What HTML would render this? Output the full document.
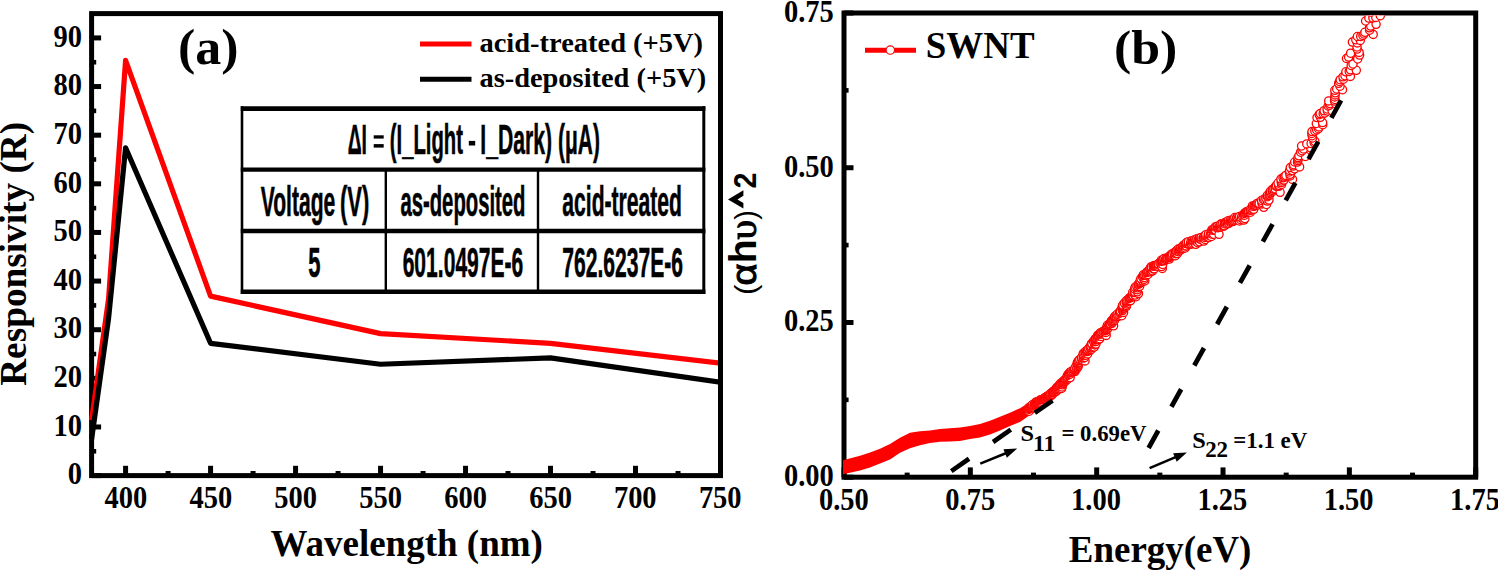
<!DOCTYPE html>
<html><head><meta charset="utf-8"><style>html,body{margin:0;padding:0;background:#fff;}svg{display:block;}</style></head>
<body><svg width="1498" height="570" viewBox="0 0 1498 570">
<rect width="1498" height="570" fill="#fff"/>
<line x1="91.60" y1="475.60" x2="101.10" y2="475.60" stroke="#000" stroke-width="5" />
<line x1="91.60" y1="426.97" x2="101.10" y2="426.97" stroke="#000" stroke-width="5" />
<line x1="91.60" y1="378.34" x2="101.10" y2="378.34" stroke="#000" stroke-width="5" />
<line x1="91.60" y1="329.71" x2="101.10" y2="329.71" stroke="#000" stroke-width="5" />
<line x1="91.60" y1="281.07" x2="101.10" y2="281.07" stroke="#000" stroke-width="5" />
<line x1="91.60" y1="232.44" x2="101.10" y2="232.44" stroke="#000" stroke-width="5" />
<line x1="91.60" y1="183.81" x2="101.10" y2="183.81" stroke="#000" stroke-width="5" />
<line x1="91.60" y1="135.18" x2="101.10" y2="135.18" stroke="#000" stroke-width="5" />
<line x1="91.60" y1="86.55" x2="101.10" y2="86.55" stroke="#000" stroke-width="5" />
<line x1="91.60" y1="37.92" x2="101.10" y2="37.92" stroke="#000" stroke-width="5" />
<line x1="91.60" y1="451.28" x2="96.20" y2="451.28" stroke="#000" stroke-width="4.6" />
<line x1="91.60" y1="402.65" x2="96.20" y2="402.65" stroke="#000" stroke-width="4.6" />
<line x1="91.60" y1="354.02" x2="96.20" y2="354.02" stroke="#000" stroke-width="4.6" />
<line x1="91.60" y1="305.39" x2="96.20" y2="305.39" stroke="#000" stroke-width="4.6" />
<line x1="91.60" y1="256.76" x2="96.20" y2="256.76" stroke="#000" stroke-width="4.6" />
<line x1="91.60" y1="208.13" x2="96.20" y2="208.13" stroke="#000" stroke-width="4.6" />
<line x1="91.60" y1="159.49" x2="96.20" y2="159.49" stroke="#000" stroke-width="4.6" />
<line x1="91.60" y1="110.86" x2="96.20" y2="110.86" stroke="#000" stroke-width="4.6" />
<line x1="91.60" y1="62.23" x2="96.20" y2="62.23" stroke="#000" stroke-width="4.6" />
<line x1="125.59" y1="475.60" x2="125.59" y2="465.80" stroke="#000" stroke-width="5" />
<line x1="210.58" y1="475.60" x2="210.58" y2="465.80" stroke="#000" stroke-width="5" />
<line x1="295.57" y1="475.60" x2="295.57" y2="465.80" stroke="#000" stroke-width="5" />
<line x1="380.55" y1="475.60" x2="380.55" y2="465.80" stroke="#000" stroke-width="5" />
<line x1="465.54" y1="475.60" x2="465.54" y2="465.80" stroke="#000" stroke-width="5" />
<line x1="550.53" y1="475.60" x2="550.53" y2="465.80" stroke="#000" stroke-width="5" />
<line x1="635.51" y1="475.60" x2="635.51" y2="465.80" stroke="#000" stroke-width="5" />
<line x1="720.50" y1="475.60" x2="720.50" y2="465.80" stroke="#000" stroke-width="5" />
<line x1="168.09" y1="475.60" x2="168.09" y2="471.00" stroke="#000" stroke-width="5" />
<line x1="253.07" y1="475.60" x2="253.07" y2="471.00" stroke="#000" stroke-width="5" />
<line x1="338.06" y1="475.60" x2="338.06" y2="471.00" stroke="#000" stroke-width="5" />
<line x1="423.05" y1="475.60" x2="423.05" y2="471.00" stroke="#000" stroke-width="5" />
<line x1="508.03" y1="475.60" x2="508.03" y2="471.00" stroke="#000" stroke-width="5" />
<line x1="593.02" y1="475.60" x2="593.02" y2="471.00" stroke="#000" stroke-width="5" />
<line x1="678.01" y1="475.60" x2="678.01" y2="471.00" stroke="#000" stroke-width="5" />
<rect x="91.6" y="13.6" width="628.9" height="462.0" fill="none" stroke="#000" stroke-width="5"/>
<clipPath id="ca"><rect x="80" y="0" width="638.0" height="500"/></clipPath>
<g clip-path="url(#ca)">
<polyline fill="none" stroke="#ff0000" stroke-width="5.2" stroke-linejoin="round" points="91.60,420.16 108.60,298.58 125.59,60.29 210.58,296.15 380.55,333.60 550.53,343.32 720.50,363.26"/>
<polyline fill="none" stroke="#000" stroke-width="5.2" stroke-linejoin="round" points="91.60,439.13 108.60,318.03 125.59,147.82 210.58,343.32 380.55,364.23 550.53,357.91 720.50,382.23"/>
</g>
<text transform="translate(67.75,484.30) scale(1.0000,1.1000)" font-family="Liberation Serif" font-weight="bold" font-size="28.5" fill="#000" >0</text>
<text transform="translate(53.50,435.67) scale(1.0000,1.1000)" font-family="Liberation Serif" font-weight="bold" font-size="28.5" fill="#000" >10</text>
<text transform="translate(53.50,387.04) scale(1.0000,1.1000)" font-family="Liberation Serif" font-weight="bold" font-size="28.5" fill="#000" >20</text>
<text transform="translate(53.50,338.41) scale(1.0000,1.1000)" font-family="Liberation Serif" font-weight="bold" font-size="28.5" fill="#000" >30</text>
<text transform="translate(53.50,289.77) scale(1.0000,1.1000)" font-family="Liberation Serif" font-weight="bold" font-size="28.5" fill="#000" >40</text>
<text transform="translate(53.50,241.14) scale(1.0000,1.1000)" font-family="Liberation Serif" font-weight="bold" font-size="28.5" fill="#000" >50</text>
<text transform="translate(53.50,192.51) scale(1.0000,1.1000)" font-family="Liberation Serif" font-weight="bold" font-size="28.5" fill="#000" >60</text>
<text transform="translate(53.50,143.88) scale(1.0000,1.1000)" font-family="Liberation Serif" font-weight="bold" font-size="28.5" fill="#000" >70</text>
<text transform="translate(53.50,95.25) scale(1.0000,1.1000)" font-family="Liberation Serif" font-weight="bold" font-size="28.5" fill="#000" >80</text>
<text transform="translate(53.50,46.62) scale(1.0000,1.1000)" font-family="Liberation Serif" font-weight="bold" font-size="28.5" fill="#000" >90</text>
<text transform="translate(104.59,508.40) scale(1.0000,1.1000)" font-family="Liberation Serif" font-weight="bold" font-size="28.5" fill="#000" >400</text>
<text transform="translate(189.58,508.40) scale(1.0000,1.1000)" font-family="Liberation Serif" font-weight="bold" font-size="28.5" fill="#000" >450</text>
<text transform="translate(274.19,508.40) scale(1.0000,1.1000)" font-family="Liberation Serif" font-weight="bold" font-size="28.5" fill="#000" >500</text>
<text transform="translate(359.18,508.40) scale(1.0000,1.1000)" font-family="Liberation Serif" font-weight="bold" font-size="28.5" fill="#000" >550</text>
<text transform="translate(444.29,508.40) scale(1.0000,1.1000)" font-family="Liberation Serif" font-weight="bold" font-size="28.5" fill="#000" >600</text>
<text transform="translate(529.28,508.40) scale(1.0000,1.1000)" font-family="Liberation Serif" font-weight="bold" font-size="28.5" fill="#000" >650</text>
<text transform="translate(613.89,508.40) scale(1.0000,1.1000)" font-family="Liberation Serif" font-weight="bold" font-size="28.5" fill="#000" >700</text>
<text transform="translate(698.88,508.40) scale(1.0000,1.1000)" font-family="Liberation Serif" font-weight="bold" font-size="28.5" fill="#000" >750</text>
<text transform="translate(270.50,555.70) scale(1.0006,1.0000)" font-family="Liberation Serif" font-weight="bold" font-size="37" fill="#000" >Wavelength (nm)</text>
<g transform="translate(26.4,385.3) rotate(-90)">
<text transform="translate(-0.50,0.00) scale(1.0077,1.0000)" font-family="Liberation Serif" font-weight="bold" font-size="37" fill="#000" >Responsivity (R)</text>
</g>
<text transform="translate(177.96,63.60) scale(1.0190,0.9800)" font-family="Liberation Serif" font-weight="bold" font-size="51" fill="#000" >(a)</text>
<line x1="420.00" y1="44.00" x2="471.50" y2="44.00" stroke="#ff0000" stroke-width="5" />
<line x1="420.00" y1="79.20" x2="471.50" y2="79.20" stroke="#000" stroke-width="5" />
<text transform="translate(479.45,51.60) scale(0.9993,0.9300)" font-family="Liberation Serif" font-weight="bold" font-size="28.5" fill="#000" >acid-treated (+5V)</text>
<text transform="translate(479.45,86.50) scale(0.9969,0.9300)" font-family="Liberation Serif" font-weight="bold" font-size="28.5" fill="#000" >as-deposited (+5V)</text>
<rect x="242.2" y="108.6" width="461.6" height="183.0" fill="#fff" stroke="none"/>
<line x1="240.80" y1="108.60" x2="705.40" y2="108.60" stroke="#000" stroke-width="4.8" />
<line x1="240.80" y1="291.70" x2="705.40" y2="291.70" stroke="#000" stroke-width="4.4" />
<line x1="242.00" y1="106.20" x2="242.00" y2="294.00" stroke="#000" stroke-width="2.6" />
<line x1="703.80" y1="106.20" x2="703.80" y2="294.00" stroke="#000" stroke-width="3.0" />
<line x1="240.80" y1="169.60" x2="705.40" y2="169.60" stroke="#000" stroke-width="4.3" />
<line x1="240.80" y1="231.00" x2="705.40" y2="231.00" stroke="#000" stroke-width="4.3" />
<line x1="385.80" y1="169.60" x2="385.80" y2="294.00" stroke="#000" stroke-width="2.4" />
<line x1="538.00" y1="169.60" x2="538.00" y2="294.00" stroke="#000" stroke-width="2.4" />
<text transform="translate(347.71,154.40) scale(0.4609,1.0000)" font-family="Liberation Sans" font-weight="bold" font-size="42" fill="#000" stroke="#000" stroke-width="0.45" vector-effect="non-scaling-stroke">ΔI</text>
<rect x="373.7" y="135.3" width="10" height="3.3"/><rect x="373.7" y="144.1" width="10" height="3.5"/>
<text transform="translate(389.84,154.40) scale(0.4824,1.0000)" font-family="Liberation Sans" font-weight="bold" font-size="42" fill="#000" stroke="#000" stroke-width="0.45" vector-effect="non-scaling-stroke">(I_Light</text>
<rect x="468.8" y="140.9" width="6.4" height="4.6"/>
<text transform="translate(480.31,154.40) scale(0.5038,1.0000)" font-family="Liberation Sans" font-weight="bold" font-size="42" fill="#000" stroke="#000" stroke-width="0.45" vector-effect="non-scaling-stroke">I_Dark)</text>
<text transform="translate(558.00,154.40) scale(0.4987,1.0000)" font-family="Liberation Sans" font-weight="bold" font-size="42" fill="#000" stroke="#000" stroke-width="0.45" vector-effect="non-scaling-stroke">(μA)</text>
<text transform="translate(260.67,216.00) scale(0.5020,1.0000)" font-family="Liberation Sans" font-weight="bold" font-size="42" fill="#000" stroke="#000" stroke-width="0.45" vector-effect="non-scaling-stroke">Voltage</text>
<text transform="translate(339.95,216.00) scale(0.5231,1.0000)" font-family="Liberation Sans" font-weight="bold" font-size="42" fill="#000" stroke="#000" stroke-width="0.45" vector-effect="non-scaling-stroke">(V)</text>
<text transform="translate(400.42,215.80) scale(0.4830,1.0000)" font-family="Liberation Sans" font-weight="bold" font-size="42" fill="#000" stroke="#000" stroke-width="0.45" vector-effect="non-scaling-stroke">as-deposited</text>
<text transform="translate(562.30,215.80) scale(0.5028,1.0000)" font-family="Liberation Sans" font-weight="bold" font-size="42" fill="#000" stroke="#000" stroke-width="0.45" vector-effect="non-scaling-stroke">acid-treated</text>
<text transform="translate(308.35,277.20) scale(0.5238,1.0000)" font-family="Liberation Sans" font-weight="bold" font-size="42" fill="#000" stroke="#000" stroke-width="0.45" vector-effect="non-scaling-stroke">5</text>
<text transform="translate(402.65,277.30) scale(0.5018,1.0000)" font-family="Liberation Sans" font-weight="bold" font-size="42" fill="#000" stroke="#000" stroke-width="0.45" vector-effect="non-scaling-stroke">601.0497E-6</text>
<text transform="translate(562.32,277.30) scale(0.5019,1.0000)" font-family="Liberation Sans" font-weight="bold" font-size="42" fill="#000" stroke="#000" stroke-width="0.45" vector-effect="non-scaling-stroke">762.6237E-6</text>
<clipPath id="cb"><rect x="843" y="15.5" width="630" height="459.5"/></clipPath>
<line x1="980.30" y1="463.60" x2="1007.01" y2="452.74" stroke="#000" stroke-width="2.6" />
<polygon points="1017.20,448.60 1006.89,457.76 1003.42,449.23" fill="#000"/>
<line x1="1149.60" y1="468.10" x2="1176.76" y2="456.67" stroke="#000" stroke-width="2.6" />
<polygon points="1186.90,452.40 1176.70,461.68 1173.13,453.20" fill="#000"/>
<line x1="844.00" y1="477.20" x2="853.50" y2="477.20" stroke="#000" stroke-width="5" />
<line x1="844.00" y1="322.47" x2="853.50" y2="322.47" stroke="#000" stroke-width="5" />
<line x1="844.00" y1="167.73" x2="853.50" y2="167.73" stroke="#000" stroke-width="5" />
<line x1="844.00" y1="13.00" x2="853.50" y2="13.00" stroke="#000" stroke-width="5" />
<line x1="844.00" y1="399.83" x2="848.60" y2="399.83" stroke="#000" stroke-width="4.6" />
<line x1="844.00" y1="245.10" x2="848.60" y2="245.10" stroke="#000" stroke-width="4.6" />
<line x1="844.00" y1="90.37" x2="848.60" y2="90.37" stroke="#000" stroke-width="4.6" />
<line x1="844.00" y1="477.20" x2="844.00" y2="467.40" stroke="#000" stroke-width="5" />
<line x1="970.34" y1="477.20" x2="970.34" y2="467.40" stroke="#000" stroke-width="5" />
<line x1="1096.68" y1="477.20" x2="1096.68" y2="467.40" stroke="#000" stroke-width="5" />
<line x1="1223.02" y1="477.20" x2="1223.02" y2="467.40" stroke="#000" stroke-width="5" />
<line x1="1349.36" y1="477.20" x2="1349.36" y2="467.40" stroke="#000" stroke-width="5" />
<line x1="1475.70" y1="477.20" x2="1475.70" y2="467.40" stroke="#000" stroke-width="5" />
<line x1="907.17" y1="477.20" x2="907.17" y2="472.60" stroke="#000" stroke-width="5" />
<line x1="1033.51" y1="477.20" x2="1033.51" y2="472.60" stroke="#000" stroke-width="5" />
<line x1="1159.85" y1="477.20" x2="1159.85" y2="472.60" stroke="#000" stroke-width="5" />
<line x1="1286.19" y1="477.20" x2="1286.19" y2="472.60" stroke="#000" stroke-width="5" />
<line x1="1412.53" y1="477.20" x2="1412.53" y2="472.60" stroke="#000" stroke-width="5" />
<rect x="844.0" y="13.0" width="631.7" height="464.2" fill="none" stroke="#000" stroke-width="5"/>
<g clip-path="url(#cb)"><polygon fill="#ff0000" points="841.0,460.8 860.0,455.7 870.0,452.6 880.0,448.7 890.0,443.9 900.0,437.8 910.0,432.8 920.0,431.2 930.0,430.4 940.0,429.0 950.0,428.3 960.0,427.5 970.0,425.9 980.0,424.0 990.0,420.8 1000.0,416.8 1010.0,412.8 1020.0,408.2 1030.0,401.9 1040.0,395.7 1050.0,388.3 1058.0,380.0 1064.0,390.0 1050.0,401.9 1040.0,409.3 1030.0,415.0 1020.0,421.9 1010.0,425.9 1000.0,430.5 990.0,434.6 980.0,437.4 970.0,439.0 960.0,440.9 950.0,441.5 940.0,441.8 930.0,443.1 920.0,445.3 910.0,448.3 900.0,452.8 890.0,459.6 880.0,463.6 870.0,467.5 860.0,470.6 841.0,474.8"/><polyline fill="none" stroke="#ff0000" stroke-width="4" stroke-linejoin="round" points="1029.2,411.2 1028.9,409.4 1028.6,408.2 1029.2,408.5 1029.2,407.9 1029.4,407.5 1029.7,407.3 1030.1,407.2 1030.8,407.6 1030.6,406.6 1031.8,407.8 1031.7,407.0 1031.6,406.2 1032.6,406.9 1032.3,405.9 1032.4,405.3 1032.5,404.7 1034.7,407.4 1034.1,405.8 1034.1,405.2 1034.7,405.4 1035.5,405.8 1035.0,404.4 1035.4,404.3 1035.1,403.2 1035.6,403.2 1035.8,402.9 1035.8,402.2 1036.3,402.3 1036.8,402.3 1037.4,402.6 1037.4,401.8 1038.1,402.2 1038.4,401.9 1038.6,401.5 1040.0,403.0 1040.0,402.2 1039.6,400.9 1040.0,400.8 1040.0,400.1 1042.3,403.2 1040.9,400.2 1041.2,399.9 1041.9,400.4 1043.2,401.8 1042.3,399.6 1042.8,399.7 1043.0,399.3 1043.8,399.9 1044.1,399.6 1044.5,399.5 1044.5,398.7 1044.5,398.0 1045.2,398.4 1046.0,399.0 1045.6,397.6 1046.2,397.8 1046.1,397.0 1046.8,397.3 1047.4,397.6 1047.3,396.7 1048.4,397.8 1047.9,396.2 1048.4,396.3 1049.1,396.8 1049.2,396.1 1049.4,395.7 1049.5,395.1 1049.7,394.8 1051.1,395.7 1050.9,394.8 1051.0,394.2 1050.9,393.4 1052.4,394.4 1052.6,393.9 1052.0,392.6 1052.5,392.4 1052.8,392.1 1053.4,392.1 1053.3,391.4 1054.1,391.5 1054.2,391.0 1055.3,391.4 1056.0,391.5 1055.3,390.0 1056.6,390.8 1056.0,389.4 1056.5,389.3 1056.6,388.7 1056.5,387.9 1057.6,388.4 1057.6,387.7 1059.2,388.7 1058.0,386.8 1059.1,387.2 1058.8,386.2 1061.6,388.5 1059.8,385.9 1059.5,384.9 1062.1,387.0 1060.4,384.4 1060.4,383.7 1060.8,383.4 1062.7,384.8 1061.8,383.1 1062.1,382.7 1063.3,383.3 1063.4,382.7 1063.1,381.6 1063.4,381.3 1064.2,381.4 1064.5,381.0 1064.4,380.2 1065.8,380.9 1065.5,379.9 1066.0,379.7 1065.8,379.1 1067.3,379.4 1066.9,378.3 1067.1,377.7 1067.5,377.2 1067.2,376.2 1070.2,377.6 1067.9,375.2 1068.3,374.7 1068.4,374.0 1069.5,374.0 1070.6,374.0 1069.6,372.5 1070.6,372.4 1071.2,372.1 1071.3,371.4 1072.8,371.7 1073.2,371.2 1074.9,371.6 1074.4,370.4 1074.6,369.8 1075.5,369.6 1074.8,368.3 1076.7,368.8 1076.4,367.8 1076.8,367.2 1076.1,366.0 1078.2,366.6 1077.6,365.4 1078.0,364.8 1077.4,363.6 1077.3,362.7 1078.4,362.7 1078.1,361.6 1079.9,362.0 1078.7,360.4 1080.1,360.5 1079.8,359.4 1082.2,360.4 1081.7,359.3 1085.0,360.9 1081.6,357.6 1083.4,358.1 1083.5,357.4 1084.7,357.5 1083.4,355.7 1083.7,355.1 1083.1,353.9 1086.0,355.2 1084.0,352.9 1085.4,353.2 1087.6,353.9 1085.3,351.5 1086.5,351.5 1087.5,351.4 1087.5,350.6 1087.7,349.9 1089.7,350.6 1088.9,349.2 1088.8,348.4 1091.2,349.4 1090.4,348.0 1091.2,347.8 1090.3,346.3 1090.9,345.9 1093.4,347.1 1094.3,347.0 1091.5,343.9 1091.9,343.4 1094.9,345.0 1094.7,344.0 1095.9,344.1 1093.4,341.3 1094.9,341.6 1095.8,341.6 1095.0,340.1 1095.3,339.4 1095.4,338.7 1096.2,338.6 1097.7,339.1 1099.0,339.5 1097.2,337.0 1099.8,338.7 1097.9,336.1 1097.8,335.2 1098.5,334.9 1101.1,336.5 1099.4,334.2 1099.9,333.8 1101.1,334.1 1100.6,332.7 1101.8,333.0 1101.9,332.3 1106.2,335.4 1103.0,331.6 1103.8,331.5 1105.8,332.5 1104.9,330.8 1105.4,330.4 1105.7,329.9 1106.2,329.4 1106.2,328.6 1107.5,328.9 1107.3,327.9 1108.1,327.7 1107.5,326.3 1107.3,325.3 1108.6,325.7 1109.4,325.5 1109.6,324.8 1109.6,323.9 1110.3,323.7 1113.6,325.8 1112.0,323.5 1112.1,322.7 1111.3,321.2 1112.5,321.3 1112.2,320.2 1112.9,320.0 1114.4,320.4 1113.6,318.9 1115.0,319.0 1114.8,318.0 1114.5,316.8 1115.1,316.3 1116.4,316.4 1118.0,316.6 1118.0,315.7 1117.2,314.2 1118.8,314.5 1121.8,315.7 1119.7,313.2 1120.3,312.7 1120.1,311.7 1120.4,310.9 1123.6,312.4 1122.5,310.6 1122.1,309.3 1122.3,308.5 1122.1,307.4 1122.4,306.6 1122.6,305.8 1122.9,305.0 1126.4,306.4 1126.2,305.3 1124.3,303.1 1126.9,303.9 1126.1,302.3 1126.7,301.8 1126.5,300.6 1127.8,300.5 1129.3,300.6 1130.6,300.6 1129.1,298.5 1129.6,297.9 1130.2,297.4 1131.4,297.3 1131.5,296.4 1132.4,296.1 1133.1,295.6 1136.0,296.7 1135.1,295.1 1132.7,292.3 1134.3,292.6 1134.9,292.0 1138.5,293.6 1137.3,291.8 1134.7,288.9 1137.3,289.7 1135.2,287.2 1137.5,287.8 1136.8,286.3 1138.4,286.4 1139.7,286.2 1138.3,284.3 1138.9,283.7 1139.9,283.3 1140.4,282.6 1140.9,281.9 1140.2,280.4 1142.7,281.1 1140.9,278.6 1144.8,280.9 1144.1,279.3 1142.5,277.0 1144.4,277.5 1143.1,275.5 1143.4,274.8 1144.7,274.8 1146.4,275.2 1146.1,274.0 1147.9,274.5 1146.7,272.4 1147.1,271.8 1148.2,271.7 1149.0,271.3 1150.7,271.8 1150.8,271.2 1149.9,268.8 1151.2,269.6 1152.7,270.8 1150.8,267.0 1151.5,266.9 1153.7,269.1 1154.2,268.7 1153.2,266.2 1153.7,265.9 1154.3,265.6 1155.3,265.9 1156.0,265.9 1156.4,265.4 1156.9,265.1 1158.5,266.4 1158.0,264.5 1158.3,263.8 1162.3,268.5 1161.7,266.6 1159.9,262.9 1161.1,263.4 1162.7,264.5 1161.2,261.3 1161.3,260.3 1162.3,260.6 1162.8,260.2 1164.0,260.8 1164.6,260.4 1164.0,258.6 1165.5,259.4 1166.3,259.5 1166.4,258.4 1166.8,257.9 1167.7,258.0 1169.4,259.1 1169.1,257.6 1169.2,256.6 1169.6,256.0 1170.8,256.5 1170.7,255.3 1171.6,255.4 1171.6,254.2 1172.3,254.0 1174.5,255.6 1175.4,255.7 1174.0,252.8 1175.6,253.7 1175.4,252.3 1177.3,253.6 1176.1,251.0 1176.8,250.7 1178.5,251.7 1178.2,250.2 1178.2,249.1 1179.5,249.6 1180.7,249.9 1180.5,248.8 1180.8,248.0 1181.9,248.5 1182.7,248.7 1183.1,248.2 1183.1,246.8 1183.1,245.6 1185.3,248.0 1184.2,244.8 1185.6,246.1 1186.3,245.9 1185.7,243.5 1186.5,243.6 1186.6,242.5 1188.3,244.1 1189.1,244.3 1188.4,241.7 1190.5,244.1 1190.7,243.4 1191.6,243.9 1191.1,241.0 1192.5,243.0 1192.3,240.7 1193.2,241.4 1194.0,241.6 1195.8,244.3 1194.6,239.8 1195.8,241.1 1196.0,239.8 1197.8,242.7 1196.9,238.8 1198.2,240.2 1199.5,241.8 1198.8,238.4 1199.4,238.2 1200.5,239.1 1201.8,240.0 1201.2,237.4 1203.8,241.1 1203.0,238.0 1203.4,237.3 1205.2,239.5 1204.9,237.4 1204.9,235.9 1205.4,235.4 1205.9,234.8 1207.9,237.3 1208.7,237.3 1208.3,235.1 1208.5,233.9 1210.2,235.7 1211.4,236.5 1210.6,233.5 1212.0,234.2 1211.7,232.4 1213.7,234.2 1211.8,229.9 1212.7,229.9 1213.4,229.7 1214.6,230.1 1215.6,230.3 1219.0,234.3 1215.2,227.0 1216.0,226.9 1217.5,227.8 1217.4,226.3 1218.7,226.9 1219.6,226.9 1220.5,227.0 1221.2,226.9 1220.8,224.1 1222.2,225.8 1222.2,223.9 1223.8,226.1 1224.4,225.7 1224.2,223.3 1225.2,223.9 1225.3,222.4 1226.1,222.4 1227.4,223.9 1227.2,221.6 1228.7,223.3 1228.4,220.7 1229.8,222.2 1230.1,221.2 1230.5,220.3 1231.5,220.9 1232.6,221.6 1232.9,220.5 1233.9,220.8 1233.8,219.0 1235.1,220.0 1234.8,217.5 1236.4,219.5 1236.5,217.8 1237.1,217.4 1239.5,221.0 1238.6,217.3 1240.8,219.7 1239.6,216.5 1241.4,217.8 1243.9,220.1 1242.1,215.8 1244.9,218.6 1243.4,214.9 1244.6,215.2 1244.4,213.4 1245.0,212.9 1245.6,212.3 1246.4,212.0 1247.3,211.8 1248.2,211.7 1248.7,211.0 1250.5,212.2 1250.2,210.3 1250.5,209.3 1252.1,209.9 1252.1,208.5 1253.8,209.3 1252.4,205.9 1253.9,206.5 1254.2,205.5 1255.2,205.4 1256.4,205.5 1256.5,204.2 1257.1,203.5 1258.0,203.2 1259.2,203.5 1263.8,207.3 1262.1,203.9 1262.0,202.4 1261.6,200.4 1266.5,204.5 1263.4,199.5 1264.9,199.9 1267.3,201.1 1266.0,198.2 1269.0,200.1 1267.4,196.7 1267.4,195.3 1268.9,195.5 1269.6,194.9 1269.6,193.4 1270.3,192.7 1270.4,191.3 1272.2,191.7 1272.3,190.3 1272.6,189.1 1273.8,188.8 1275.3,188.9 1280.1,192.3 1275.7,186.2 1276.5,185.6 1278.7,186.3 1279.3,185.4 1278.1,183.0 1281.6,184.4 1281.3,182.6 1281.3,181.0 1280.9,179.1 1283.9,180.1 1283.0,177.8 1284.3,177.3 1284.9,176.2 1285.9,175.4 1292.5,179.4 1290.2,175.9 1290.1,174.3 1289.3,172.0 1289.6,170.5 1292.3,170.6 1290.3,167.6 1294.7,168.8 1293.2,166.1 1293.7,164.7 1299.6,166.9 1294.7,162.0 1297.5,162.1 1297.9,160.6 1298.0,159.0 1298.0,157.6 1298.9,155.8 1305.4,156.5 1300.6,152.2 1302.1,150.7 1303.5,149.0 1301.6,146.0 1310.6,147.8 1306.8,143.9 1311.1,143.5 1314.1,142.6 1314.8,141.2 1312.6,138.0 1312.1,135.7 1311.8,133.5 1312.0,131.6 1314.8,131.0 1316.7,129.9 1318.5,128.7 1318.9,126.9 1316.3,123.5 1322.8,124.7 1322.6,122.6 1317.0,117.6 1320.4,117.3 1319.2,114.7 1320.2,113.6 1323.2,113.7 1324.8,113.0 1324.1,110.7 1327.4,111.1 1327.1,109.0 1332.1,110.7 1328.1,106.0 1329.6,105.2 1330.0,103.6 1328.7,100.9 1335.8,103.9 1334.5,101.1 1334.9,99.5 1334.8,96.9 1335.1,94.9 1335.3,92.8 1334.8,90.3 1336.7,89.0 1342.5,89.7 1340.0,86.2 1338.6,83.3 1339.5,81.5 1340.2,79.7 1343.4,79.2 1343.0,76.8 1345.0,75.7 1350.4,76.4 1345.9,71.8 1349.2,71.4 1350.4,69.8 1356.3,70.3 1351.2,65.5 1353.0,64.0 1346.5,58.5 1348.6,57.1 1357.7,59.0 1350.6,53.2 1359.6,55.1 1359.1,52.4 1357.1,49.1 1357.0,47.0 1352.4,42.1 1357.3,42.9 1355.8,39.8 1360.3,40.4 1357.4,36.5 1360.7,36.4 1362.9,35.5 1364.0,34.0 1364.9,32.3 1373.2,34.4 1369.6,30.2 1369.5,27.8 1370.7,26.1 1365.6,21.0 1376.1,24.3 1368.8,18.1 1372.9,17.9 1375.8,17.4 1370.6,12.1 1380.3,15.7 1373.2,9.2 1378.6,10.2 1379.3,8.3 1375.9,4.1 1378.0,3.0 1383.7,4.2 1387.2,4.0"/><g fill="#fff" stroke="#ff0000" stroke-width="1.3"><circle cx="1029.2" cy="411.2" r="4.1"/><circle cx="1028.9" cy="409.4" r="4.1"/><circle cx="1028.6" cy="408.2" r="4.1"/><circle cx="1029.2" cy="408.5" r="4.1"/><circle cx="1029.2" cy="407.9" r="4.1"/><circle cx="1029.4" cy="407.5" r="4.1"/><circle cx="1029.7" cy="407.3" r="4.1"/><circle cx="1030.1" cy="407.2" r="4.1"/><circle cx="1030.8" cy="407.6" r="4.1"/><circle cx="1030.6" cy="406.6" r="4.1"/><circle cx="1031.8" cy="407.8" r="4.1"/><circle cx="1031.7" cy="407.0" r="4.1"/><circle cx="1031.6" cy="406.2" r="4.1"/><circle cx="1032.6" cy="406.9" r="4.1"/><circle cx="1032.3" cy="405.9" r="4.1"/><circle cx="1032.4" cy="405.3" r="4.1"/><circle cx="1032.5" cy="404.7" r="4.1"/><circle cx="1034.7" cy="407.4" r="4.1"/><circle cx="1034.1" cy="405.8" r="4.1"/><circle cx="1034.1" cy="405.2" r="4.1"/><circle cx="1034.7" cy="405.4" r="4.1"/><circle cx="1035.5" cy="405.8" r="4.1"/><circle cx="1035.0" cy="404.4" r="4.1"/><circle cx="1035.4" cy="404.3" r="4.1"/><circle cx="1035.1" cy="403.2" r="4.1"/><circle cx="1035.6" cy="403.2" r="4.1"/><circle cx="1035.8" cy="402.9" r="4.1"/><circle cx="1035.8" cy="402.2" r="4.1"/><circle cx="1036.3" cy="402.3" r="4.1"/><circle cx="1036.8" cy="402.3" r="4.1"/><circle cx="1037.4" cy="402.6" r="4.1"/><circle cx="1037.4" cy="401.8" r="4.1"/><circle cx="1038.1" cy="402.2" r="4.1"/><circle cx="1038.4" cy="401.9" r="4.1"/><circle cx="1038.6" cy="401.5" r="4.1"/><circle cx="1040.0" cy="403.0" r="4.1"/><circle cx="1040.0" cy="402.2" r="4.1"/><circle cx="1039.6" cy="400.9" r="4.1"/><circle cx="1040.0" cy="400.8" r="4.1"/><circle cx="1040.0" cy="400.1" r="4.1"/><circle cx="1042.3" cy="403.2" r="4.1"/><circle cx="1040.9" cy="400.2" r="4.1"/><circle cx="1041.2" cy="399.9" r="4.1"/><circle cx="1041.9" cy="400.4" r="4.1"/><circle cx="1043.2" cy="401.8" r="4.1"/><circle cx="1042.3" cy="399.6" r="4.1"/><circle cx="1042.8" cy="399.7" r="4.1"/><circle cx="1043.0" cy="399.3" r="4.1"/><circle cx="1043.8" cy="399.9" r="4.1"/><circle cx="1044.1" cy="399.6" r="4.1"/><circle cx="1044.5" cy="399.5" r="4.1"/><circle cx="1044.5" cy="398.7" r="4.1"/><circle cx="1044.5" cy="398.0" r="4.1"/><circle cx="1045.2" cy="398.4" r="4.1"/><circle cx="1046.0" cy="399.0" r="4.1"/><circle cx="1045.6" cy="397.6" r="4.1"/><circle cx="1046.2" cy="397.8" r="4.1"/><circle cx="1046.1" cy="397.0" r="4.1"/><circle cx="1046.8" cy="397.3" r="4.1"/><circle cx="1047.4" cy="397.6" r="4.1"/><circle cx="1047.3" cy="396.7" r="4.1"/><circle cx="1048.4" cy="397.8" r="4.1"/><circle cx="1047.9" cy="396.2" r="4.1"/><circle cx="1048.4" cy="396.3" r="4.1"/><circle cx="1049.1" cy="396.8" r="4.1"/><circle cx="1049.2" cy="396.1" r="4.1"/><circle cx="1049.4" cy="395.7" r="4.1"/><circle cx="1049.5" cy="395.1" r="4.1"/><circle cx="1049.7" cy="394.8" r="4.1"/><circle cx="1051.1" cy="395.7" r="4.1"/><circle cx="1050.9" cy="394.8" r="4.1"/><circle cx="1051.0" cy="394.2" r="4.1"/><circle cx="1050.9" cy="393.4" r="4.1"/><circle cx="1052.4" cy="394.4" r="4.1"/><circle cx="1052.6" cy="393.9" r="4.1"/><circle cx="1052.0" cy="392.6" r="4.1"/><circle cx="1052.5" cy="392.4" r="4.1"/><circle cx="1052.8" cy="392.1" r="4.1"/><circle cx="1053.4" cy="392.1" r="4.1"/><circle cx="1053.3" cy="391.4" r="4.1"/><circle cx="1054.1" cy="391.5" r="4.1"/><circle cx="1054.2" cy="391.0" r="4.1"/><circle cx="1055.3" cy="391.4" r="4.1"/><circle cx="1056.0" cy="391.5" r="4.1"/><circle cx="1055.3" cy="390.0" r="4.1"/><circle cx="1056.6" cy="390.8" r="4.1"/><circle cx="1056.0" cy="389.4" r="4.1"/><circle cx="1056.5" cy="389.3" r="4.1"/><circle cx="1056.6" cy="388.7" r="4.1"/><circle cx="1056.5" cy="387.9" r="4.1"/><circle cx="1057.6" cy="388.4" r="4.1"/><circle cx="1057.6" cy="387.7" r="4.1"/><circle cx="1059.2" cy="388.7" r="4.1"/><circle cx="1058.0" cy="386.8" r="4.1"/><circle cx="1059.1" cy="387.2" r="4.1"/><circle cx="1058.8" cy="386.2" r="4.1"/><circle cx="1061.6" cy="388.5" r="4.1"/><circle cx="1059.8" cy="385.9" r="4.1"/><circle cx="1059.5" cy="384.9" r="4.1"/><circle cx="1062.1" cy="387.0" r="4.1"/><circle cx="1060.4" cy="384.4" r="4.1"/><circle cx="1060.4" cy="383.7" r="4.1"/><circle cx="1060.8" cy="383.4" r="4.1"/><circle cx="1062.7" cy="384.8" r="4.1"/><circle cx="1061.8" cy="383.1" r="4.1"/><circle cx="1062.1" cy="382.7" r="4.1"/><circle cx="1063.3" cy="383.3" r="4.1"/><circle cx="1063.4" cy="382.7" r="4.1"/><circle cx="1063.1" cy="381.6" r="4.1"/><circle cx="1063.4" cy="381.3" r="4.1"/><circle cx="1064.2" cy="381.4" r="4.1"/><circle cx="1064.5" cy="381.0" r="4.1"/><circle cx="1064.4" cy="380.2" r="4.1"/><circle cx="1065.8" cy="380.9" r="4.1"/><circle cx="1065.5" cy="379.9" r="4.1"/><circle cx="1066.0" cy="379.7" r="4.1"/><circle cx="1065.8" cy="379.1" r="4.1"/><circle cx="1067.3" cy="379.4" r="4.1"/><circle cx="1066.9" cy="378.3" r="4.1"/><circle cx="1067.1" cy="377.7" r="4.1"/><circle cx="1067.5" cy="377.2" r="4.1"/><circle cx="1067.2" cy="376.2" r="4.1"/><circle cx="1070.2" cy="377.6" r="4.1"/><circle cx="1067.9" cy="375.2" r="4.1"/><circle cx="1068.3" cy="374.7" r="4.1"/><circle cx="1068.4" cy="374.0" r="4.1"/><circle cx="1069.5" cy="374.0" r="4.1"/><circle cx="1070.6" cy="374.0" r="4.1"/><circle cx="1069.6" cy="372.5" r="4.1"/><circle cx="1070.6" cy="372.4" r="4.1"/><circle cx="1071.2" cy="372.1" r="4.1"/><circle cx="1071.3" cy="371.4" r="4.1"/><circle cx="1072.8" cy="371.7" r="4.1"/><circle cx="1073.2" cy="371.2" r="4.1"/><circle cx="1074.9" cy="371.6" r="4.1"/><circle cx="1074.4" cy="370.4" r="4.1"/><circle cx="1074.6" cy="369.8" r="4.1"/><circle cx="1075.5" cy="369.6" r="4.1"/><circle cx="1074.8" cy="368.3" r="4.1"/><circle cx="1076.7" cy="368.8" r="4.1"/><circle cx="1076.4" cy="367.8" r="4.1"/><circle cx="1076.8" cy="367.2" r="4.1"/><circle cx="1076.1" cy="366.0" r="4.1"/><circle cx="1078.2" cy="366.6" r="4.1"/><circle cx="1077.6" cy="365.4" r="4.1"/><circle cx="1078.0" cy="364.8" r="4.1"/><circle cx="1077.4" cy="363.6" r="4.1"/><circle cx="1077.3" cy="362.7" r="4.1"/><circle cx="1078.4" cy="362.7" r="4.1"/><circle cx="1078.1" cy="361.6" r="4.1"/><circle cx="1079.9" cy="362.0" r="4.1"/><circle cx="1078.7" cy="360.4" r="4.1"/><circle cx="1080.1" cy="360.5" r="4.1"/><circle cx="1079.8" cy="359.4" r="4.1"/><circle cx="1082.2" cy="360.4" r="4.1"/><circle cx="1081.7" cy="359.3" r="4.1"/><circle cx="1085.0" cy="360.9" r="4.1"/><circle cx="1081.6" cy="357.6" r="4.1"/><circle cx="1083.4" cy="358.1" r="4.1"/><circle cx="1083.5" cy="357.4" r="4.1"/><circle cx="1084.7" cy="357.5" r="4.1"/><circle cx="1083.4" cy="355.7" r="4.1"/><circle cx="1083.7" cy="355.1" r="4.1"/><circle cx="1083.1" cy="353.9" r="4.1"/><circle cx="1086.0" cy="355.2" r="4.1"/><circle cx="1084.0" cy="352.9" r="4.1"/><circle cx="1085.4" cy="353.2" r="4.1"/><circle cx="1087.6" cy="353.9" r="4.1"/><circle cx="1085.3" cy="351.5" r="4.1"/><circle cx="1086.5" cy="351.5" r="4.1"/><circle cx="1087.5" cy="351.4" r="4.1"/><circle cx="1087.5" cy="350.6" r="4.1"/><circle cx="1087.7" cy="349.9" r="4.1"/><circle cx="1089.7" cy="350.6" r="4.1"/><circle cx="1088.9" cy="349.2" r="4.1"/><circle cx="1088.8" cy="348.4" r="4.1"/><circle cx="1091.2" cy="349.4" r="4.1"/><circle cx="1090.4" cy="348.0" r="4.1"/><circle cx="1091.2" cy="347.8" r="4.1"/><circle cx="1090.3" cy="346.3" r="4.1"/><circle cx="1090.9" cy="345.9" r="4.1"/><circle cx="1093.4" cy="347.1" r="4.1"/><circle cx="1094.3" cy="347.0" r="4.1"/><circle cx="1091.5" cy="343.9" r="4.1"/><circle cx="1091.9" cy="343.4" r="4.1"/><circle cx="1094.9" cy="345.0" r="4.1"/><circle cx="1094.7" cy="344.0" r="4.1"/><circle cx="1095.9" cy="344.1" r="4.1"/><circle cx="1093.4" cy="341.3" r="4.1"/><circle cx="1094.9" cy="341.6" r="4.1"/><circle cx="1095.8" cy="341.6" r="4.1"/><circle cx="1095.0" cy="340.1" r="4.1"/><circle cx="1095.3" cy="339.4" r="4.1"/><circle cx="1095.4" cy="338.7" r="4.1"/><circle cx="1096.2" cy="338.6" r="4.1"/><circle cx="1097.7" cy="339.1" r="4.1"/><circle cx="1099.0" cy="339.5" r="4.1"/><circle cx="1097.2" cy="337.0" r="4.1"/><circle cx="1099.8" cy="338.7" r="4.1"/><circle cx="1097.9" cy="336.1" r="4.1"/><circle cx="1097.8" cy="335.2" r="4.1"/><circle cx="1098.5" cy="334.9" r="4.1"/><circle cx="1101.1" cy="336.5" r="4.1"/><circle cx="1099.4" cy="334.2" r="4.1"/><circle cx="1099.9" cy="333.8" r="4.1"/><circle cx="1101.1" cy="334.1" r="4.1"/><circle cx="1100.6" cy="332.7" r="4.1"/><circle cx="1101.8" cy="333.0" r="4.1"/><circle cx="1101.9" cy="332.3" r="4.1"/><circle cx="1106.2" cy="335.4" r="4.1"/><circle cx="1103.0" cy="331.6" r="4.1"/><circle cx="1103.8" cy="331.5" r="4.1"/><circle cx="1105.8" cy="332.5" r="4.1"/><circle cx="1104.9" cy="330.8" r="4.1"/><circle cx="1105.4" cy="330.4" r="4.1"/><circle cx="1105.7" cy="329.9" r="4.1"/><circle cx="1106.2" cy="329.4" r="4.1"/><circle cx="1106.2" cy="328.6" r="4.1"/><circle cx="1107.5" cy="328.9" r="4.1"/><circle cx="1107.3" cy="327.9" r="4.1"/><circle cx="1108.1" cy="327.7" r="4.1"/><circle cx="1107.5" cy="326.3" r="4.1"/><circle cx="1107.3" cy="325.3" r="4.1"/><circle cx="1108.6" cy="325.7" r="4.1"/><circle cx="1109.4" cy="325.5" r="4.1"/><circle cx="1109.6" cy="324.8" r="4.1"/><circle cx="1109.6" cy="323.9" r="4.1"/><circle cx="1110.3" cy="323.7" r="4.1"/><circle cx="1113.6" cy="325.8" r="4.1"/><circle cx="1112.0" cy="323.5" r="4.1"/><circle cx="1112.1" cy="322.7" r="4.1"/><circle cx="1111.3" cy="321.2" r="4.1"/><circle cx="1112.5" cy="321.3" r="4.1"/><circle cx="1112.2" cy="320.2" r="4.1"/><circle cx="1112.9" cy="320.0" r="4.1"/><circle cx="1114.4" cy="320.4" r="4.1"/><circle cx="1113.6" cy="318.9" r="4.1"/><circle cx="1115.0" cy="319.0" r="4.1"/><circle cx="1114.8" cy="318.0" r="4.1"/><circle cx="1114.5" cy="316.8" r="4.1"/><circle cx="1115.1" cy="316.3" r="4.1"/><circle cx="1116.4" cy="316.4" r="4.1"/><circle cx="1118.0" cy="316.6" r="4.1"/><circle cx="1118.0" cy="315.7" r="4.1"/><circle cx="1117.2" cy="314.2" r="4.1"/><circle cx="1118.8" cy="314.5" r="4.1"/><circle cx="1121.8" cy="315.7" r="4.1"/><circle cx="1119.7" cy="313.2" r="4.1"/><circle cx="1120.3" cy="312.7" r="4.1"/><circle cx="1120.1" cy="311.7" r="4.1"/><circle cx="1120.4" cy="310.9" r="4.1"/><circle cx="1123.6" cy="312.4" r="4.1"/><circle cx="1122.5" cy="310.6" r="4.1"/><circle cx="1122.1" cy="309.3" r="4.1"/><circle cx="1122.3" cy="308.5" r="4.1"/><circle cx="1122.1" cy="307.4" r="4.1"/><circle cx="1122.4" cy="306.6" r="4.1"/><circle cx="1122.6" cy="305.8" r="4.1"/><circle cx="1122.9" cy="305.0" r="4.1"/><circle cx="1126.4" cy="306.4" r="4.1"/><circle cx="1126.2" cy="305.3" r="4.1"/><circle cx="1124.3" cy="303.1" r="4.1"/><circle cx="1126.9" cy="303.9" r="4.1"/><circle cx="1126.1" cy="302.3" r="4.1"/><circle cx="1126.7" cy="301.8" r="4.1"/><circle cx="1126.5" cy="300.6" r="4.1"/><circle cx="1127.8" cy="300.5" r="4.1"/><circle cx="1129.3" cy="300.6" r="4.1"/><circle cx="1130.6" cy="300.6" r="4.1"/><circle cx="1129.1" cy="298.5" r="4.1"/><circle cx="1129.6" cy="297.9" r="4.1"/><circle cx="1130.2" cy="297.4" r="4.1"/><circle cx="1131.4" cy="297.3" r="4.1"/><circle cx="1131.5" cy="296.4" r="4.1"/><circle cx="1132.4" cy="296.1" r="4.1"/><circle cx="1133.1" cy="295.6" r="4.1"/><circle cx="1136.0" cy="296.7" r="4.1"/><circle cx="1135.1" cy="295.1" r="4.1"/><circle cx="1132.7" cy="292.3" r="4.1"/><circle cx="1134.3" cy="292.6" r="4.1"/><circle cx="1134.9" cy="292.0" r="4.1"/><circle cx="1138.5" cy="293.6" r="4.1"/><circle cx="1137.3" cy="291.8" r="4.1"/><circle cx="1134.7" cy="288.9" r="4.1"/><circle cx="1137.3" cy="289.7" r="4.1"/><circle cx="1135.2" cy="287.2" r="4.1"/><circle cx="1137.5" cy="287.8" r="4.1"/><circle cx="1136.8" cy="286.3" r="4.1"/><circle cx="1138.4" cy="286.4" r="4.1"/><circle cx="1139.7" cy="286.2" r="4.1"/><circle cx="1138.3" cy="284.3" r="4.1"/><circle cx="1138.9" cy="283.7" r="4.1"/><circle cx="1139.9" cy="283.3" r="4.1"/><circle cx="1140.4" cy="282.6" r="4.1"/><circle cx="1140.9" cy="281.9" r="4.1"/><circle cx="1140.2" cy="280.4" r="4.1"/><circle cx="1142.7" cy="281.1" r="4.1"/><circle cx="1140.9" cy="278.6" r="4.1"/><circle cx="1144.8" cy="280.9" r="4.1"/><circle cx="1144.1" cy="279.3" r="4.1"/><circle cx="1142.5" cy="277.0" r="4.1"/><circle cx="1144.4" cy="277.5" r="4.1"/><circle cx="1143.1" cy="275.5" r="4.1"/><circle cx="1143.4" cy="274.8" r="4.1"/><circle cx="1144.7" cy="274.8" r="4.1"/><circle cx="1146.4" cy="275.2" r="4.1"/><circle cx="1146.1" cy="274.0" r="4.1"/><circle cx="1147.9" cy="274.5" r="4.1"/><circle cx="1146.7" cy="272.4" r="4.1"/><circle cx="1147.1" cy="271.8" r="4.1"/><circle cx="1148.2" cy="271.7" r="4.1"/><circle cx="1149.0" cy="271.3" r="4.1"/><circle cx="1150.7" cy="271.8" r="4.1"/><circle cx="1150.8" cy="271.2" r="4.1"/><circle cx="1149.9" cy="268.8" r="4.1"/><circle cx="1151.2" cy="269.6" r="4.1"/><circle cx="1152.7" cy="270.8" r="4.1"/><circle cx="1150.8" cy="267.0" r="4.1"/><circle cx="1151.5" cy="266.9" r="4.1"/><circle cx="1153.7" cy="269.1" r="4.1"/><circle cx="1154.2" cy="268.7" r="4.1"/><circle cx="1153.2" cy="266.2" r="4.1"/><circle cx="1153.7" cy="265.9" r="4.1"/><circle cx="1154.3" cy="265.6" r="4.1"/><circle cx="1155.3" cy="265.9" r="4.1"/><circle cx="1156.0" cy="265.9" r="4.1"/><circle cx="1156.4" cy="265.4" r="4.1"/><circle cx="1156.9" cy="265.1" r="4.1"/><circle cx="1158.5" cy="266.4" r="4.1"/><circle cx="1158.0" cy="264.5" r="4.1"/><circle cx="1158.3" cy="263.8" r="4.1"/><circle cx="1162.3" cy="268.5" r="4.1"/><circle cx="1161.7" cy="266.6" r="4.1"/><circle cx="1159.9" cy="262.9" r="4.1"/><circle cx="1161.1" cy="263.4" r="4.1"/><circle cx="1162.7" cy="264.5" r="4.1"/><circle cx="1161.2" cy="261.3" r="4.1"/><circle cx="1161.3" cy="260.3" r="4.1"/><circle cx="1162.3" cy="260.6" r="4.1"/><circle cx="1162.8" cy="260.2" r="4.1"/><circle cx="1164.0" cy="260.8" r="4.1"/><circle cx="1164.6" cy="260.4" r="4.1"/><circle cx="1164.0" cy="258.6" r="4.1"/><circle cx="1165.5" cy="259.4" r="4.1"/><circle cx="1166.3" cy="259.5" r="4.1"/><circle cx="1166.4" cy="258.4" r="4.1"/><circle cx="1166.8" cy="257.9" r="4.1"/><circle cx="1167.7" cy="258.0" r="4.1"/><circle cx="1169.4" cy="259.1" r="4.1"/><circle cx="1169.1" cy="257.6" r="4.1"/><circle cx="1169.2" cy="256.6" r="4.1"/><circle cx="1169.6" cy="256.0" r="4.1"/><circle cx="1170.8" cy="256.5" r="4.1"/><circle cx="1170.7" cy="255.3" r="4.1"/><circle cx="1171.6" cy="255.4" r="4.1"/><circle cx="1171.6" cy="254.2" r="4.1"/><circle cx="1172.3" cy="254.0" r="4.1"/><circle cx="1174.5" cy="255.6" r="4.1"/><circle cx="1175.4" cy="255.7" r="4.1"/><circle cx="1174.0" cy="252.8" r="4.1"/><circle cx="1175.6" cy="253.7" r="4.1"/><circle cx="1175.4" cy="252.3" r="4.1"/><circle cx="1177.3" cy="253.6" r="4.1"/><circle cx="1176.1" cy="251.0" r="4.1"/><circle cx="1176.8" cy="250.7" r="4.1"/><circle cx="1178.5" cy="251.7" r="4.1"/><circle cx="1178.2" cy="250.2" r="4.1"/><circle cx="1178.2" cy="249.1" r="4.1"/><circle cx="1179.5" cy="249.6" r="4.1"/><circle cx="1180.7" cy="249.9" r="4.1"/><circle cx="1180.5" cy="248.8" r="4.1"/><circle cx="1180.8" cy="248.0" r="4.1"/><circle cx="1181.9" cy="248.5" r="4.1"/><circle cx="1182.7" cy="248.7" r="4.1"/><circle cx="1183.1" cy="248.2" r="4.1"/><circle cx="1183.1" cy="246.8" r="4.1"/><circle cx="1183.1" cy="245.6" r="4.1"/><circle cx="1185.3" cy="248.0" r="4.1"/><circle cx="1184.2" cy="244.8" r="4.1"/><circle cx="1185.6" cy="246.1" r="4.1"/><circle cx="1186.3" cy="245.9" r="4.1"/><circle cx="1185.7" cy="243.5" r="4.1"/><circle cx="1186.5" cy="243.6" r="4.1"/><circle cx="1186.6" cy="242.5" r="4.1"/><circle cx="1188.3" cy="244.1" r="4.1"/><circle cx="1189.1" cy="244.3" r="4.1"/><circle cx="1188.4" cy="241.7" r="4.1"/><circle cx="1190.5" cy="244.1" r="4.1"/><circle cx="1190.7" cy="243.4" r="4.1"/><circle cx="1191.6" cy="243.9" r="4.1"/><circle cx="1191.1" cy="241.0" r="4.1"/><circle cx="1192.5" cy="243.0" r="4.1"/><circle cx="1192.3" cy="240.7" r="4.1"/><circle cx="1193.2" cy="241.4" r="4.1"/><circle cx="1194.0" cy="241.6" r="4.1"/><circle cx="1195.8" cy="244.3" r="4.1"/><circle cx="1194.6" cy="239.8" r="4.1"/><circle cx="1195.8" cy="241.1" r="4.1"/><circle cx="1196.0" cy="239.8" r="4.1"/><circle cx="1197.8" cy="242.7" r="4.1"/><circle cx="1196.9" cy="238.8" r="4.1"/><circle cx="1198.2" cy="240.2" r="4.1"/><circle cx="1199.5" cy="241.8" r="4.1"/><circle cx="1198.8" cy="238.4" r="4.1"/><circle cx="1199.4" cy="238.2" r="4.1"/><circle cx="1200.5" cy="239.1" r="4.1"/><circle cx="1201.8" cy="240.0" r="4.1"/><circle cx="1201.2" cy="237.4" r="4.1"/><circle cx="1203.8" cy="241.1" r="4.1"/><circle cx="1203.0" cy="238.0" r="4.1"/><circle cx="1203.4" cy="237.3" r="4.1"/><circle cx="1205.2" cy="239.5" r="4.1"/><circle cx="1204.9" cy="237.4" r="4.1"/><circle cx="1204.9" cy="235.9" r="4.1"/><circle cx="1205.4" cy="235.4" r="4.1"/><circle cx="1205.9" cy="234.8" r="4.1"/><circle cx="1207.9" cy="237.3" r="4.1"/><circle cx="1208.7" cy="237.3" r="4.1"/><circle cx="1208.3" cy="235.1" r="4.1"/><circle cx="1208.5" cy="233.9" r="4.1"/><circle cx="1210.2" cy="235.7" r="4.1"/><circle cx="1211.4" cy="236.5" r="4.1"/><circle cx="1210.6" cy="233.5" r="4.1"/><circle cx="1212.0" cy="234.2" r="4.1"/><circle cx="1211.7" cy="232.4" r="4.1"/><circle cx="1213.7" cy="234.2" r="4.1"/><circle cx="1211.8" cy="229.9" r="4.1"/><circle cx="1212.7" cy="229.9" r="4.1"/><circle cx="1213.4" cy="229.7" r="4.1"/><circle cx="1214.6" cy="230.1" r="4.1"/><circle cx="1215.6" cy="230.3" r="4.1"/><circle cx="1219.0" cy="234.3" r="4.1"/><circle cx="1215.2" cy="227.0" r="4.1"/><circle cx="1216.0" cy="226.9" r="4.1"/><circle cx="1217.5" cy="227.8" r="4.1"/><circle cx="1217.4" cy="226.3" r="4.1"/><circle cx="1218.7" cy="226.9" r="4.1"/><circle cx="1219.6" cy="226.9" r="4.1"/><circle cx="1220.5" cy="227.0" r="4.1"/><circle cx="1221.2" cy="226.9" r="4.1"/><circle cx="1220.8" cy="224.1" r="4.1"/><circle cx="1222.2" cy="225.8" r="4.1"/><circle cx="1222.2" cy="223.9" r="4.1"/><circle cx="1223.8" cy="226.1" r="4.1"/><circle cx="1224.4" cy="225.7" r="4.1"/><circle cx="1224.2" cy="223.3" r="4.1"/><circle cx="1225.2" cy="223.9" r="4.1"/><circle cx="1225.3" cy="222.4" r="4.1"/><circle cx="1226.1" cy="222.4" r="4.1"/><circle cx="1227.4" cy="223.9" r="4.1"/><circle cx="1227.2" cy="221.6" r="4.1"/><circle cx="1228.7" cy="223.3" r="4.1"/><circle cx="1228.4" cy="220.7" r="4.1"/><circle cx="1229.8" cy="222.2" r="4.1"/><circle cx="1230.1" cy="221.2" r="4.1"/><circle cx="1230.5" cy="220.3" r="4.1"/><circle cx="1231.5" cy="220.9" r="4.1"/><circle cx="1232.6" cy="221.6" r="4.1"/><circle cx="1232.9" cy="220.5" r="4.1"/><circle cx="1233.9" cy="220.8" r="4.1"/><circle cx="1233.8" cy="219.0" r="4.1"/><circle cx="1235.1" cy="220.0" r="4.1"/><circle cx="1234.8" cy="217.5" r="4.1"/><circle cx="1236.4" cy="219.5" r="4.1"/><circle cx="1236.5" cy="217.8" r="4.1"/><circle cx="1237.1" cy="217.4" r="4.1"/><circle cx="1239.5" cy="221.0" r="4.1"/><circle cx="1238.6" cy="217.3" r="4.1"/><circle cx="1240.8" cy="219.7" r="4.1"/><circle cx="1239.6" cy="216.5" r="4.1"/><circle cx="1241.4" cy="217.8" r="4.1"/><circle cx="1243.9" cy="220.1" r="4.1"/><circle cx="1242.1" cy="215.8" r="4.1"/><circle cx="1244.9" cy="218.6" r="4.1"/><circle cx="1243.4" cy="214.9" r="4.1"/><circle cx="1244.6" cy="215.2" r="4.1"/><circle cx="1244.4" cy="213.4" r="4.1"/><circle cx="1245.0" cy="212.9" r="4.1"/><circle cx="1245.6" cy="212.3" r="4.1"/><circle cx="1246.4" cy="212.0" r="4.1"/><circle cx="1247.3" cy="211.8" r="4.1"/><circle cx="1248.2" cy="211.7" r="4.1"/><circle cx="1248.7" cy="211.0" r="4.1"/><circle cx="1250.5" cy="212.2" r="4.1"/><circle cx="1250.2" cy="210.3" r="4.1"/><circle cx="1250.5" cy="209.3" r="4.1"/><circle cx="1252.1" cy="209.9" r="4.1"/><circle cx="1252.1" cy="208.5" r="4.1"/><circle cx="1253.8" cy="209.3" r="4.1"/><circle cx="1252.4" cy="205.9" r="4.1"/><circle cx="1253.9" cy="206.5" r="4.1"/><circle cx="1254.2" cy="205.5" r="4.1"/><circle cx="1255.2" cy="205.4" r="4.1"/><circle cx="1256.4" cy="205.5" r="4.1"/><circle cx="1256.5" cy="204.2" r="4.1"/><circle cx="1257.1" cy="203.5" r="4.1"/><circle cx="1258.0" cy="203.2" r="4.1"/><circle cx="1259.2" cy="203.5" r="4.1"/><circle cx="1263.8" cy="207.3" r="4.1"/><circle cx="1262.1" cy="203.9" r="4.1"/><circle cx="1262.0" cy="202.4" r="4.1"/><circle cx="1261.6" cy="200.4" r="4.1"/><circle cx="1266.5" cy="204.5" r="4.1"/><circle cx="1263.4" cy="199.5" r="4.1"/><circle cx="1264.9" cy="199.9" r="4.1"/><circle cx="1267.3" cy="201.1" r="4.1"/><circle cx="1266.0" cy="198.2" r="4.1"/><circle cx="1269.0" cy="200.1" r="4.1"/><circle cx="1267.4" cy="196.7" r="4.1"/><circle cx="1267.4" cy="195.3" r="4.1"/><circle cx="1268.9" cy="195.5" r="4.1"/><circle cx="1269.6" cy="194.9" r="4.1"/><circle cx="1269.6" cy="193.4" r="4.1"/><circle cx="1270.3" cy="192.7" r="4.1"/><circle cx="1270.4" cy="191.3" r="4.1"/><circle cx="1272.2" cy="191.7" r="4.1"/><circle cx="1272.3" cy="190.3" r="4.1"/><circle cx="1272.6" cy="189.1" r="4.1"/><circle cx="1273.8" cy="188.8" r="4.1"/><circle cx="1275.3" cy="188.9" r="4.1"/><circle cx="1280.1" cy="192.3" r="4.1"/><circle cx="1275.7" cy="186.2" r="4.1"/><circle cx="1276.5" cy="185.6" r="4.1"/><circle cx="1278.7" cy="186.3" r="4.1"/><circle cx="1279.3" cy="185.4" r="4.1"/><circle cx="1278.1" cy="183.0" r="4.1"/><circle cx="1281.6" cy="184.4" r="4.1"/><circle cx="1281.3" cy="182.6" r="4.1"/><circle cx="1281.3" cy="181.0" r="4.1"/><circle cx="1280.9" cy="179.1" r="4.1"/><circle cx="1283.9" cy="180.1" r="4.1"/><circle cx="1283.0" cy="177.8" r="4.1"/><circle cx="1284.3" cy="177.3" r="4.1"/><circle cx="1284.9" cy="176.2" r="4.1"/><circle cx="1285.9" cy="175.4" r="4.1"/><circle cx="1292.5" cy="179.4" r="4.1"/><circle cx="1290.2" cy="175.9" r="4.1"/><circle cx="1290.1" cy="174.3" r="4.1"/><circle cx="1289.3" cy="172.0" r="4.1"/><circle cx="1289.6" cy="170.5" r="4.1"/><circle cx="1292.3" cy="170.6" r="4.1"/><circle cx="1290.3" cy="167.6" r="4.1"/><circle cx="1294.7" cy="168.8" r="4.1"/><circle cx="1293.2" cy="166.1" r="4.1"/><circle cx="1293.7" cy="164.7" r="4.1"/><circle cx="1299.6" cy="166.9" r="4.1"/><circle cx="1294.7" cy="162.0" r="4.1"/><circle cx="1297.5" cy="162.1" r="4.1"/><circle cx="1297.9" cy="160.6" r="4.1"/><circle cx="1298.0" cy="159.0" r="4.1"/><circle cx="1298.0" cy="157.6" r="4.1"/><circle cx="1298.9" cy="155.8" r="4.1"/><circle cx="1305.4" cy="156.5" r="4.1"/><circle cx="1300.6" cy="152.2" r="4.1"/><circle cx="1302.1" cy="150.7" r="4.1"/><circle cx="1303.5" cy="149.0" r="4.1"/><circle cx="1301.6" cy="146.0" r="4.1"/><circle cx="1310.6" cy="147.8" r="4.1"/><circle cx="1306.8" cy="143.9" r="4.1"/><circle cx="1311.1" cy="143.5" r="4.1"/><circle cx="1314.1" cy="142.6" r="4.1"/><circle cx="1314.8" cy="141.2" r="4.1"/><circle cx="1312.6" cy="138.0" r="4.1"/><circle cx="1312.1" cy="135.7" r="4.1"/><circle cx="1311.8" cy="133.5" r="4.1"/><circle cx="1312.0" cy="131.6" r="4.1"/><circle cx="1314.8" cy="131.0" r="4.1"/><circle cx="1316.7" cy="129.9" r="4.1"/><circle cx="1318.5" cy="128.7" r="4.1"/><circle cx="1318.9" cy="126.9" r="4.1"/><circle cx="1316.3" cy="123.5" r="4.1"/><circle cx="1322.8" cy="124.7" r="4.1"/><circle cx="1322.6" cy="122.6" r="4.1"/><circle cx="1317.0" cy="117.6" r="4.1"/><circle cx="1320.4" cy="117.3" r="4.1"/><circle cx="1319.2" cy="114.7" r="4.1"/><circle cx="1320.2" cy="113.6" r="4.1"/><circle cx="1323.2" cy="113.7" r="4.1"/><circle cx="1324.8" cy="113.0" r="4.1"/><circle cx="1324.1" cy="110.7" r="4.1"/><circle cx="1327.4" cy="111.1" r="4.1"/><circle cx="1327.1" cy="109.0" r="4.1"/><circle cx="1332.1" cy="110.7" r="4.1"/><circle cx="1328.1" cy="106.0" r="4.1"/><circle cx="1329.6" cy="105.2" r="4.1"/><circle cx="1330.0" cy="103.6" r="4.1"/><circle cx="1328.7" cy="100.9" r="4.1"/><circle cx="1335.8" cy="103.9" r="4.1"/><circle cx="1334.5" cy="101.1" r="4.1"/><circle cx="1334.9" cy="99.5" r="4.1"/><circle cx="1334.8" cy="96.9" r="4.1"/><circle cx="1335.1" cy="94.9" r="4.1"/><circle cx="1335.3" cy="92.8" r="4.1"/><circle cx="1334.8" cy="90.3" r="4.1"/><circle cx="1336.7" cy="89.0" r="4.1"/><circle cx="1342.5" cy="89.7" r="4.1"/><circle cx="1340.0" cy="86.2" r="4.1"/><circle cx="1338.6" cy="83.3" r="4.1"/><circle cx="1339.5" cy="81.5" r="4.1"/><circle cx="1340.2" cy="79.7" r="4.1"/><circle cx="1343.4" cy="79.2" r="4.1"/><circle cx="1343.0" cy="76.8" r="4.1"/><circle cx="1345.0" cy="75.7" r="4.1"/><circle cx="1350.4" cy="76.4" r="4.1"/><circle cx="1345.9" cy="71.8" r="4.1"/><circle cx="1349.2" cy="71.4" r="4.1"/><circle cx="1350.4" cy="69.8" r="4.1"/><circle cx="1356.3" cy="70.3" r="4.1"/><circle cx="1351.2" cy="65.5" r="4.1"/><circle cx="1353.0" cy="64.0" r="4.1"/><circle cx="1346.5" cy="58.5" r="4.1"/><circle cx="1348.6" cy="57.1" r="4.1"/><circle cx="1357.7" cy="59.0" r="4.1"/><circle cx="1350.6" cy="53.2" r="4.1"/><circle cx="1359.6" cy="55.1" r="4.1"/><circle cx="1359.1" cy="52.4" r="4.1"/><circle cx="1357.1" cy="49.1" r="4.1"/><circle cx="1357.0" cy="47.0" r="4.1"/><circle cx="1352.4" cy="42.1" r="4.1"/><circle cx="1357.3" cy="42.9" r="4.1"/><circle cx="1355.8" cy="39.8" r="4.1"/><circle cx="1360.3" cy="40.4" r="4.1"/><circle cx="1357.4" cy="36.5" r="4.1"/><circle cx="1360.7" cy="36.4" r="4.1"/><circle cx="1362.9" cy="35.5" r="4.1"/><circle cx="1364.0" cy="34.0" r="4.1"/><circle cx="1364.9" cy="32.3" r="4.1"/><circle cx="1373.2" cy="34.4" r="4.1"/><circle cx="1369.6" cy="30.2" r="4.1"/><circle cx="1369.5" cy="27.8" r="4.1"/><circle cx="1370.7" cy="26.1" r="4.1"/><circle cx="1365.6" cy="21.0" r="4.1"/><circle cx="1376.1" cy="24.3" r="4.1"/><circle cx="1368.8" cy="18.1" r="4.1"/><circle cx="1372.9" cy="17.9" r="4.1"/><circle cx="1375.8" cy="17.4" r="4.1"/><circle cx="1370.6" cy="12.1" r="4.1"/><circle cx="1380.3" cy="15.7" r="4.1"/><circle cx="1373.2" cy="9.2" r="4.1"/><circle cx="1378.6" cy="10.2" r="4.1"/><circle cx="1379.3" cy="8.3" r="4.1"/><circle cx="1375.9" cy="4.1" r="4.1"/><circle cx="1378.0" cy="3.0" r="4.1"/><circle cx="1383.7" cy="4.2" r="4.1"/><circle cx="1387.2" cy="4.0" r="4.1"/></g></g>
<g clip-path="url(#cb)">
<line x1="951.3" y1="471.1" x2="1052.6" y2="400.5" stroke="#000" stroke-width="4.6" stroke-dasharray="21.6 29.3"/>
<line x1="1148.6" y1="448.0" x2="1341.2" y2="100.3" stroke="#000" stroke-width="4.7" stroke-dasharray="20 27.16"/>
</g>
<text transform="translate(784.00,486.20) scale(1.0000,1.1000)" font-family="Liberation Serif" font-weight="bold" font-size="28.5" fill="#000" >0.00</text>
<text transform="translate(784.00,331.47) scale(1.0000,1.1000)" font-family="Liberation Serif" font-weight="bold" font-size="28.5" fill="#000" >0.25</text>
<text transform="translate(784.00,176.73) scale(1.0000,1.1000)" font-family="Liberation Serif" font-weight="bold" font-size="28.5" fill="#000" >0.50</text>
<text transform="translate(784.00,22.00) scale(1.0000,1.1000)" font-family="Liberation Serif" font-weight="bold" font-size="28.5" fill="#000" >0.75</text>
<text transform="translate(819.00,510.20) scale(1.0000,1.1000)" font-family="Liberation Serif" font-weight="bold" font-size="28.5" fill="#000" >0.50</text>
<text transform="translate(945.34,510.20) scale(1.0000,1.1000)" font-family="Liberation Serif" font-weight="bold" font-size="28.5" fill="#000" >0.75</text>
<text transform="translate(1071.06,510.20) scale(1.0000,1.1000)" font-family="Liberation Serif" font-weight="bold" font-size="28.5" fill="#000" >1.00</text>
<text transform="translate(1197.39,510.20) scale(1.0000,1.1000)" font-family="Liberation Serif" font-weight="bold" font-size="28.5" fill="#000" >1.25</text>
<text transform="translate(1323.74,510.20) scale(1.0000,1.1000)" font-family="Liberation Serif" font-weight="bold" font-size="28.5" fill="#000" >1.50</text>
<text transform="translate(1450.08,510.20) scale(1.0000,1.1000)" font-family="Liberation Serif" font-weight="bold" font-size="28.5" fill="#000" >1.75</text>
<text transform="translate(1068.80,562.00) scale(0.9986,1.0000)" font-family="Liberation Serif" font-weight="bold" font-size="37" fill="#000" >Energy(eV)</text>
<text transform="translate(925.85,57.80) scale(0.9977,1.0000)" font-family="Liberation Serif" font-weight="bold" font-size="37" fill="#000" >SWNT</text>
<line x1="865.00" y1="50.20" x2="916.00" y2="50.20" stroke="#ff0000" stroke-width="5" />
<circle cx="890.3" cy="50.1" r="4.2" fill="#fff" stroke="#ff0000" stroke-width="1.1"/>
<text transform="translate(1113.97,63.80) scale(1.0172,0.9700)" font-family="Liberation Serif" font-weight="bold" font-size="51" fill="#000" >(b)</text>
<text transform="translate(1020.50,440.90) scale(1.0364,1.0000)" font-family="Liberation Serif" font-weight="bold" font-size="23.5" fill="#000" >S</text>
<text transform="translate(1033.03,450.80) scale(1.0103,1.0000)" font-family="Liberation Serif" font-weight="bold" font-size="23.5" fill="#000" >11</text>
<text transform="translate(1061.43,440.90) scale(0.9688,1.0000)" font-family="Liberation Serif" font-weight="bold" font-size="23.5" fill="#000" >= 0.69eV</text>
<text transform="translate(1192.20,447.90) scale(1.0364,1.0000)" font-family="Liberation Serif" font-weight="bold" font-size="23.5" fill="#000" >S</text>
<text transform="translate(1205.17,457.00) scale(0.9747,1.0000)" font-family="Liberation Serif" font-weight="bold" font-size="23.5" fill="#000" >22</text>
<text transform="translate(1233.33,447.90) scale(0.9726,1.0000)" font-family="Liberation Serif" font-weight="bold" font-size="23.5" fill="#000" >=1.1 eV</text>
<g transform="translate(756.0,293.2) rotate(-90)">
<text transform="translate(-1.85,0.00) scale(1.0545,1.0000)" font-family="Liberation Sans" font-weight="normal" font-size="30" fill="#000" >(</text>
<text transform="translate(7.61,0.30) scale(1.0595,1.0000)" font-family="Liberation Sans" font-weight="normal" font-size="36" fill="#000" stroke="#000" stroke-width="1.1">α</text>
<text transform="translate(29.83,0.00) scale(1.0270,1.0000)" font-family="Liberation Sans" font-weight="bold" font-size="38" fill="#000" >h</text>
<text transform="translate(53.73,0.30) scale(1.0687,1.0000)" font-family="Liberation Serif" font-weight="normal" font-size="37" fill="#000" stroke="#000" stroke-width="1.0">υ</text>
<text transform="translate(73.50,0.00) scale(0.9576,1.0000)" font-family="Liberation Sans" font-weight="normal" font-size="30" fill="#000" >)</text>
<polygon points="84.6,-12.6 93.8,-28 103,-12.6 97.4,-12.6 93.8,-18.6 90.2,-12.6"/>
<text transform="translate(104.59,0.20) scale(0.9097,1.0000)" font-family="Liberation Sans" font-weight="bold" font-size="31.5" fill="#000" >2</text>
</g>
</svg></body></html>
